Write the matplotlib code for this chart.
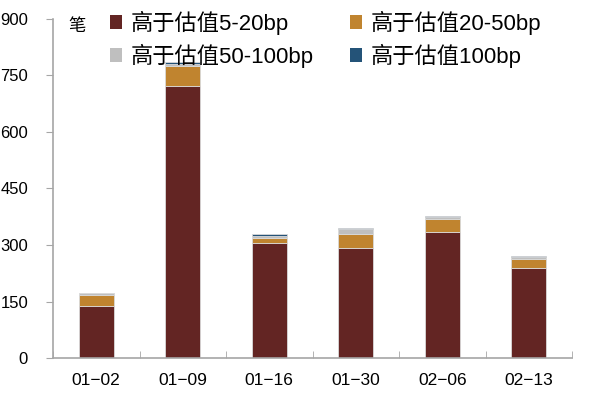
import numpy as np
import matplotlib
matplotlib.use('Agg')
import matplotlib.pyplot as plt
from matplotlib.patches import Patch

plt.rcParams['font.family'] = ['Liberation Sans', 'Noto Sans CJK SC', 'DejaVu Sans']

# 数据
dates = ['01-02', '01-09', '01-16', '01-30', '02-06', '02-13']
s5_20 = [139, 722, 304, 293, 334, 240]
s20_50 = [28, 54, 15, 37, 34, 24]
s50_100 = [5, 5, 4, 12, 7, 3]
s100 = [1, 6, 6, 3, 1, 5]
names = ['高于估值5-20bp', '高于估值20-50bp', '高于估值50-100bp', '高于估值100bp']
colors = ['#632523', '#C0842F', '#BFBFBF', '#245378']

fig = plt.figure(figsize=(5.92, 3.95), dpi=100)
ax = fig.add_axes([53/592, 1-358/395, (572-53)/592, (358-19)/395])

x = np.arange(len(dates))
bottom = np.zeros(len(dates))
for vals, c in zip([s5_20, s20_50, s50_100, s100], colors):
    ax.bar(x, vals, 0.4, bottom=bottom, color=c, edgecolor='#D9D9D9', linewidth=0.6)
    bottom += np.array(vals)

ax.set_xlim(-0.5, len(dates)-0.5)
ax.set_ylim(0, 900)
ax.set_yticks(np.arange(0, 901, 150))
ax.set_xticks(x)
ax.set_xticklabels([d.replace('-', '\u2212') for d in dates], fontsize=12.5)
ax.set_xticks(np.arange(-0.5, len(dates), 1), minor=True)
ax.tick_params(axis='x', which='major', length=0, pad=11)
ax.tick_params(axis='x', which='minor', length=5, direction='in', color='#A6A6A6')
ax.tick_params(axis='y', labelsize=12, length=5, direction='out', color='#A6A6A6', pad=13)

for s in ['top', 'right']:
    ax.spines[s].set_visible(False)
for s in ['left', 'bottom']:
    ax.spines[s].set_color('#A6A6A6')
    ax.spines[s].set_linewidth(1.2)

fig.text(68/592, 1-26/395, '笔', fontsize=12.5, va='center')

handles = [Patch(facecolor=c, edgecolor='none') for c in colors]
order = [0, 2, 1, 3]
ax.legend([handles[i] for i in order], [names[i] for i in order], ncol=2,
          loc='upper left', bbox_to_anchor=(101/592, 1-2/395), bbox_transform=fig.transFigure,
          frameon=False, fontsize=16, handlelength=0.55, handleheight=0.55,
          handletextpad=0.4, columnspacing=1.6, labelspacing=0.4, borderaxespad=0)

fig.savefig('out.png', dpi=100)
